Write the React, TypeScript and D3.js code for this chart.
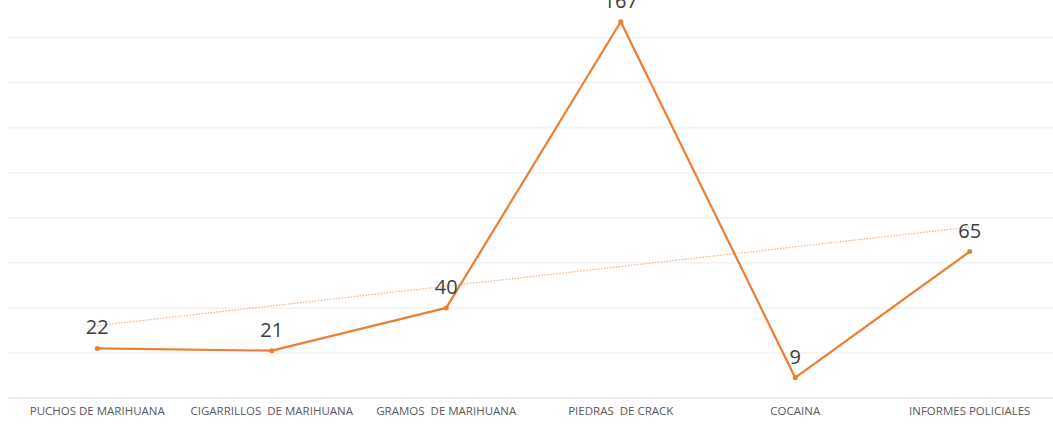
import React, { useRef, useEffect } from 'react';
import * as d3 from 'd3';

const categories = [
  'PUCHOS DE MARIHUANA',
  'CIGARRILLOS  DE MARIHUANA',
  'GRAMOS  DE MARIHUANA',
  'PIEDRAS  DE CRACK',
  'COCAINA',
  'INFORMES POLICIALES',
];
const values = [22, 21, 40, 167, 9, 65];
const gridTicks = [0, 20, 40, 60, 80, 100, 120, 140, 160, 180];

const width = 1053;
const height = 424;

const App: React.FC = () => {
  const svgRef = useRef<SVGSVGElement | null>(null);

  useEffect(() => {
    if (!svgRef.current) return;
    const svg = d3.select(svgRef.current);
    svg.selectAll('*').remove();

    const x = d3.scalePoint<string>().domain(categories).range([10, 1057]).padding(0.5);
    const y = d3.scaleLinear().domain([0, 180]).range([398, -7.5]);

    // gridlines
    svg.append('g')
      .selectAll('line')
      .data(gridTicks)
      .enter()
      .append('line')
      .attr('x1', 8)
      .attr('x2', width)
      .attr('y1', d => y(d))
      .attr('y2', d => y(d))
      .attr('stroke', d => (d === 0 ? '#e8e8e8' : '#f2f2f2'))
      .attr('stroke-width', 1.5);

    // category labels
    svg.append('g')
      .selectAll('text')
      .data(categories)
      .enter()
      .append('text')
      .attr('x', d => x(d) as number)
      .attr('y', 415)
      .attr('text-anchor', 'middle')
      .attr('font-family', '"Open Sans", sans-serif')
      .attr('font-size', 11.5)
      .attr('fill', '#595959')
      .style('white-space', 'pre')
      .text(d => d);

    // linear trendline (least squares over category index)
    const n = values.length;
    const xs = values.map((_, i) => i + 1);
    const mx = d3.mean(xs) as number;
    const my = d3.mean(values) as number;
    const slope = d3.sum(xs, (xi, i) => (xi - mx) * (values[i] - my)) / d3.sum(xs, xi => (xi - mx) ** 2);
    const icpt = my - slope * mx;
    svg.append('line')
      .attr('x1', x(categories[0]) as number)
      .attr('x2', x(categories[n - 1]) as number)
      .attr('y1', y(icpt + slope * 1))
      .attr('y2', y(icpt + slope * n))
      .attr('stroke', '#f4b183')
      .attr('stroke-width', 1.2)
      .attr('stroke-dasharray', '1.5,1.5');

    const pts = categories.map((c, i) => ({ c, v: values[i] }));
    const line = d3.line<{ c: string; v: number }>()
      .x(d => x(d.c) as number)
      .y(d => y(d.v));

    svg.append('path')
      .datum(pts)
      .attr('fill', 'none')
      .attr('stroke', '#ed7d31')
      .attr('stroke-width', 2.2)
      .attr('stroke-linejoin', 'round')
      .attr('d', line);

    svg.append('g')
      .selectAll('circle')
      .data(pts)
      .enter()
      .append('circle')
      .attr('cx', d => x(d.c) as number)
      .attr('cy', d => y(d.v))
      .attr('r', 2.5)
      .attr('fill', '#ed7d31');

    svg.append('g')
      .selectAll('text')
      .data(pts)
      .enter()
      .append('text')
      .attr('x', d => x(d.c) as number)
      .attr('y', d => y(d.v) - 14)
      .attr('text-anchor', 'middle')
      .attr('font-family', '"Open Sans", sans-serif')
      .attr('font-size', 20)
      .attr('fill', '#404040')
      .text(d => d.v);
  }, []);

  return (
    <svg
      ref={svgRef}
      width={width}
      height={height}
      style={{ position: 'absolute', left: 0, top: 0, background: '#fff', display: 'block' }}
    />
  );
};

export default App;
